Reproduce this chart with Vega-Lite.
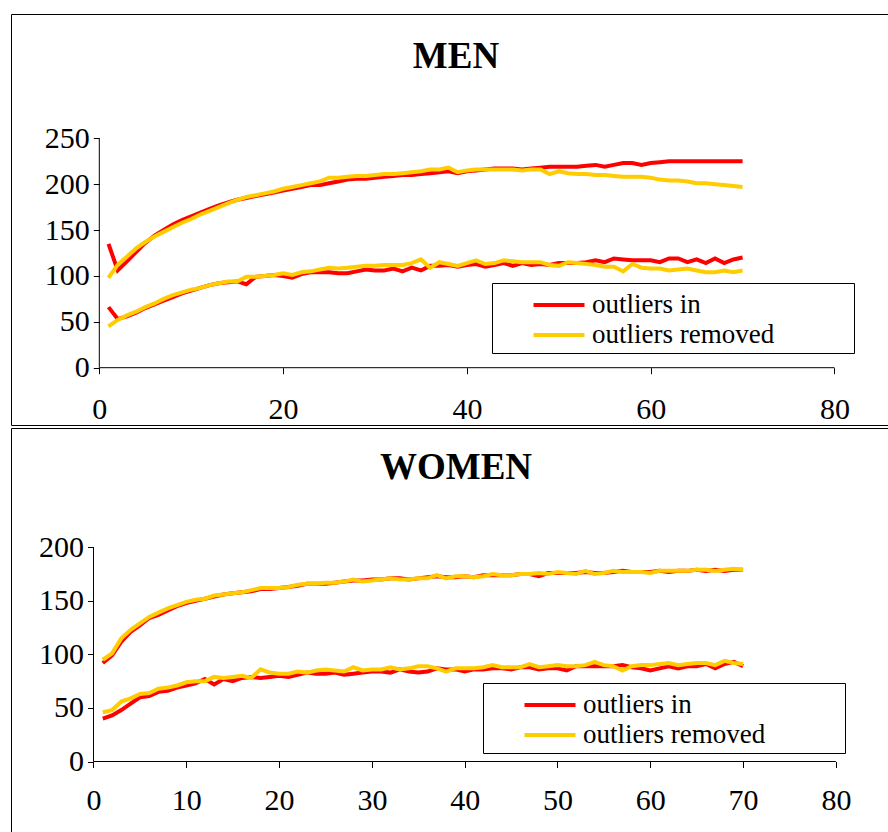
{
  "$schema": "https://vega.github.io/schema/vega-lite/v6.json",
  "padding": {"left": 10, "top": 13, "right": 0, "bottom": 0},
  "spacing": 1,
  "datasets": {
    "men": [
      {"x":1,"g":"u","outliers in":135,"outliers removed":98},{"x":2,"g":"u","outliers in":106,"outliers removed":112},{"x":3,"g":"u","outliers in":116,"outliers removed":121},{"x":4,"g":"u","outliers in":126,"outliers removed":130},{"x":5,"g":"u","outliers in":136,"outliers removed":137},{"x":6,"g":"u","outliers in":144,"outliers removed":143},{"x":7,"g":"u","outliers in":150,"outliers removed":148},{"x":8,"g":"u","outliers in":156,"outliers removed":153},{"x":9,"g":"u","outliers in":161,"outliers removed":158},{"x":10,"g":"u","outliers in":165,"outliers removed":162},
      {"x":11,"g":"u","outliers in":169,"outliers removed":167},{"x":12,"g":"u","outliers in":173,"outliers removed":171},{"x":13,"g":"u","outliers in":177,"outliers removed":175},{"x":14,"g":"u","outliers in":180,"outliers removed":179},{"x":15,"g":"u","outliers in":183,"outliers removed":183},{"x":16,"g":"u","outliers in":185,"outliers removed":186},{"x":17,"g":"u","outliers in":187,"outliers removed":188},{"x":18,"g":"u","outliers in":189,"outliers removed":190},{"x":19,"g":"u","outliers in":191,"outliers removed":192},{"x":20,"g":"u","outliers in":193,"outliers removed":195},
      {"x":21,"g":"u","outliers in":195,"outliers removed":197},{"x":22,"g":"u","outliers in":197,"outliers removed":199},{"x":23,"g":"u","outliers in":199,"outliers removed":201},{"x":24,"g":"u","outliers in":199,"outliers removed":203},{"x":25,"g":"u","outliers in":201,"outliers removed":207},{"x":26,"g":"u","outliers in":203,"outliers removed":207},{"x":27,"g":"u","outliers in":205,"outliers removed":208},{"x":28,"g":"u","outliers in":206,"outliers removed":209},{"x":29,"g":"u","outliers in":206,"outliers removed":209},{"x":30,"g":"u","outliers in":207,"outliers removed":210},
      {"x":31,"g":"u","outliers in":208,"outliers removed":211},{"x":32,"g":"u","outliers in":209,"outliers removed":211},{"x":33,"g":"u","outliers in":210,"outliers removed":212},{"x":34,"g":"u","outliers in":210,"outliers removed":213},{"x":35,"g":"u","outliers in":211,"outliers removed":214},{"x":36,"g":"u","outliers in":212,"outliers removed":216},{"x":37,"g":"u","outliers in":213,"outliers removed":216},{"x":38,"g":"u","outliers in":214,"outliers removed":218},{"x":39,"g":"u","outliers in":212,"outliers removed":213},{"x":40,"g":"u","outliers in":214,"outliers removed":215},
      {"x":41,"g":"u","outliers in":215,"outliers removed":216},{"x":42,"g":"u","outliers in":216,"outliers removed":216},{"x":43,"g":"u","outliers in":217,"outliers removed":216},{"x":44,"g":"u","outliers in":217,"outliers removed":216},{"x":45,"g":"u","outliers in":217,"outliers removed":216},{"x":46,"g":"u","outliers in":216,"outliers removed":215},{"x":47,"g":"u","outliers in":217,"outliers removed":216},{"x":48,"g":"u","outliers in":218,"outliers removed":216},{"x":49,"g":"u","outliers in":219,"outliers removed":211},{"x":50,"g":"u","outliers in":219,"outliers removed":214},
      {"x":51,"g":"u","outliers in":219,"outliers removed":212},{"x":52,"g":"u","outliers in":219,"outliers removed":211},{"x":53,"g":"u","outliers in":220,"outliers removed":211},{"x":54,"g":"u","outliers in":221,"outliers removed":210},{"x":55,"g":"u","outliers in":219,"outliers removed":210},{"x":56,"g":"u","outliers in":221,"outliers removed":209},{"x":57,"g":"u","outliers in":223,"outliers removed":208},{"x":58,"g":"u","outliers in":223,"outliers removed":208},{"x":59,"g":"u","outliers in":221,"outliers removed":208},{"x":60,"g":"u","outliers in":223,"outliers removed":207},
      {"x":61,"g":"u","outliers in":224,"outliers removed":205},{"x":62,"g":"u","outliers in":225,"outliers removed":204},{"x":63,"g":"u","outliers in":225,"outliers removed":204},{"x":64,"g":"u","outliers in":225,"outliers removed":203},{"x":65,"g":"u","outliers in":225,"outliers removed":201},{"x":66,"g":"u","outliers in":225,"outliers removed":201},{"x":67,"g":"u","outliers in":225,"outliers removed":200},{"x":68,"g":"u","outliers in":225,"outliers removed":199},{"x":69,"g":"u","outliers in":225,"outliers removed":198},{"x":70,"g":"u","outliers in":225,"outliers removed":197},
      {"x":1,"g":"l","outliers in":66,"outliers removed":45},{"x":2,"g":"l","outliers in":53,"outliers removed":52},{"x":3,"g":"l","outliers in":56,"outliers removed":57},{"x":4,"g":"l","outliers in":60,"outliers removed":61},{"x":5,"g":"l","outliers in":65,"outliers removed":66},{"x":6,"g":"l","outliers in":69,"outliers removed":70},{"x":7,"g":"l","outliers in":73,"outliers removed":75},{"x":8,"g":"l","outliers in":77,"outliers removed":79},{"x":9,"g":"l","outliers in":81,"outliers removed":82},{"x":10,"g":"l","outliers in":84,"outliers removed":85},
      {"x":11,"g":"l","outliers in":87,"outliers removed":87},{"x":12,"g":"l","outliers in":90,"outliers removed":90},{"x":13,"g":"l","outliers in":92,"outliers removed":92},{"x":14,"g":"l","outliers in":93,"outliers removed":94},{"x":15,"g":"l","outliers in":94,"outliers removed":94},{"x":16,"g":"l","outliers in":91,"outliers removed":99},{"x":17,"g":"l","outliers in":99,"outliers removed":99},{"x":18,"g":"l","outliers in":100,"outliers removed":100},{"x":19,"g":"l","outliers in":101,"outliers removed":101},{"x":20,"g":"l","outliers in":100,"outliers removed":103},
      {"x":21,"g":"l","outliers in":98,"outliers removed":101},{"x":22,"g":"l","outliers in":102,"outliers removed":104},{"x":23,"g":"l","outliers in":104,"outliers removed":105},{"x":24,"g":"l","outliers in":104,"outliers removed":107},{"x":25,"g":"l","outliers in":104,"outliers removed":109},{"x":26,"g":"l","outliers in":103,"outliers removed":108},{"x":27,"g":"l","outliers in":103,"outliers removed":109},{"x":28,"g":"l","outliers in":105,"outliers removed":110},{"x":29,"g":"l","outliers in":107,"outliers removed":111},{"x":30,"g":"l","outliers in":106,"outliers removed":111},
      {"x":31,"g":"l","outliers in":106,"outliers removed":112},{"x":32,"g":"l","outliers in":108,"outliers removed":112},{"x":33,"g":"l","outliers in":105,"outliers removed":112},{"x":34,"g":"l","outliers in":109,"outliers removed":114},{"x":35,"g":"l","outliers in":106,"outliers removed":118},{"x":36,"g":"l","outliers in":111,"outliers removed":109},{"x":37,"g":"l","outliers in":111,"outliers removed":115},{"x":38,"g":"l","outliers in":112,"outliers removed":113},{"x":39,"g":"l","outliers in":110,"outliers removed":111},{"x":40,"g":"l","outliers in":112,"outliers removed":114},
      {"x":41,"g":"l","outliers in":113,"outliers removed":117},{"x":42,"g":"l","outliers in":110,"outliers removed":113},{"x":43,"g":"l","outliers in":112,"outliers removed":114},{"x":44,"g":"l","outliers in":114,"outliers removed":117},{"x":45,"g":"l","outliers in":111,"outliers removed":116},{"x":46,"g":"l","outliers in":114,"outliers removed":115},{"x":47,"g":"l","outliers in":112,"outliers removed":115},{"x":48,"g":"l","outliers in":113,"outliers removed":115},{"x":49,"g":"l","outliers in":112,"outliers removed":112},{"x":50,"g":"l","outliers in":114,"outliers removed":111},
      {"x":51,"g":"l","outliers in":114,"outliers removed":115},{"x":52,"g":"l","outliers in":114,"outliers removed":114},{"x":53,"g":"l","outliers in":115,"outliers removed":113},{"x":54,"g":"l","outliers in":117,"outliers removed":112},{"x":55,"g":"l","outliers in":115,"outliers removed":110},{"x":56,"g":"l","outliers in":119,"outliers removed":110},{"x":57,"g":"l","outliers in":118,"outliers removed":105},{"x":58,"g":"l","outliers in":117,"outliers removed":113},{"x":59,"g":"l","outliers in":117,"outliers removed":109},{"x":60,"g":"l","outliers in":117,"outliers removed":108},
      {"x":61,"g":"l","outliers in":115,"outliers removed":108},{"x":62,"g":"l","outliers in":119,"outliers removed":106},{"x":63,"g":"l","outliers in":119,"outliers removed":107},{"x":64,"g":"l","outliers in":115,"outliers removed":108},{"x":65,"g":"l","outliers in":118,"outliers removed":106},{"x":66,"g":"l","outliers in":114,"outliers removed":104},{"x":67,"g":"l","outliers in":119,"outliers removed":104},{"x":68,"g":"l","outliers in":114,"outliers removed":106},{"x":69,"g":"l","outliers in":118,"outliers removed":104},{"x":70,"g":"l","outliers in":120,"outliers removed":106}
    ],
    "women": [
      {"x":1,"g":"u","outliers in":92,"outliers removed":95},{"x":2,"g":"u","outliers in":99,"outliers removed":101},{"x":3,"g":"u","outliers in":112,"outliers removed":115},{"x":4,"g":"u","outliers in":121,"outliers removed":123},{"x":5,"g":"u","outliers in":127,"outliers removed":129},{"x":6,"g":"u","outliers in":134,"outliers removed":135},{"x":7,"g":"u","outliers in":137,"outliers removed":139},{"x":8,"g":"u","outliers in":141,"outliers removed":143},{"x":9,"g":"u","outliers in":145,"outliers removed":146},{"x":10,"g":"u","outliers in":148,"outliers removed":149},
      {"x":11,"g":"u","outliers in":150,"outliers removed":151},{"x":12,"g":"u","outliers in":152,"outliers removed":152},{"x":13,"g":"u","outliers in":154,"outliers removed":155},{"x":14,"g":"u","outliers in":156,"outliers removed":156},{"x":15,"g":"u","outliers in":157,"outliers removed":157},{"x":16,"g":"u","outliers in":158,"outliers removed":158},{"x":17,"g":"u","outliers in":159,"outliers removed":160},{"x":18,"g":"u","outliers in":161,"outliers removed":162},{"x":19,"g":"u","outliers in":161,"outliers removed":162},{"x":20,"g":"u","outliers in":162,"outliers removed":162},
      {"x":21,"g":"u","outliers in":163,"outliers removed":163},{"x":22,"g":"u","outliers in":164,"outliers removed":165},{"x":23,"g":"u","outliers in":166,"outliers removed":166},{"x":24,"g":"u","outliers in":166,"outliers removed":166},{"x":25,"g":"u","outliers in":166,"outliers removed":167},{"x":26,"g":"u","outliers in":167,"outliers removed":167},{"x":27,"g":"u","outliers in":168,"outliers removed":168},{"x":28,"g":"u","outliers in":169,"outliers removed":170},{"x":29,"g":"u","outliers in":169,"outliers removed":168},{"x":30,"g":"u","outliers in":170,"outliers removed":169},
      {"x":31,"g":"u","outliers in":170,"outliers removed":170},{"x":32,"g":"u","outliers in":171,"outliers removed":171},{"x":33,"g":"u","outliers in":171,"outliers removed":170},{"x":34,"g":"u","outliers in":170,"outliers removed":170},{"x":35,"g":"u","outliers in":171,"outliers removed":171},{"x":36,"g":"u","outliers in":172,"outliers removed":171},{"x":37,"g":"u","outliers in":173,"outliers removed":174},{"x":38,"g":"u","outliers in":172,"outliers removed":171},{"x":39,"g":"u","outliers in":172,"outliers removed":173},{"x":40,"g":"u","outliers in":173,"outliers removed":173},
      {"x":41,"g":"u","outliers in":172,"outliers removed":172},{"x":42,"g":"u","outliers in":174,"outliers removed":173},{"x":43,"g":"u","outliers in":174,"outliers removed":175},{"x":44,"g":"u","outliers in":174,"outliers removed":174},{"x":45,"g":"u","outliers in":174,"outliers removed":174},{"x":46,"g":"u","outliers in":175,"outliers removed":175},{"x":47,"g":"u","outliers in":175,"outliers removed":175},{"x":48,"g":"u","outliers in":173,"outliers removed":176},{"x":49,"g":"u","outliers in":176,"outliers removed":175},{"x":50,"g":"u","outliers in":176,"outliers removed":177},
      {"x":51,"g":"u","outliers in":176,"outliers removed":176},{"x":52,"g":"u","outliers in":176,"outliers removed":175},{"x":53,"g":"u","outliers in":177,"outliers removed":178},{"x":54,"g":"u","outliers in":176,"outliers removed":175},{"x":55,"g":"u","outliers in":176,"outliers removed":176},{"x":56,"g":"u","outliers in":177,"outliers removed":178},{"x":57,"g":"u","outliers in":178,"outliers removed":177},{"x":58,"g":"u","outliers in":177,"outliers removed":177},{"x":59,"g":"u","outliers in":177,"outliers removed":177},{"x":60,"g":"u","outliers in":177,"outliers removed":176},
      {"x":61,"g":"u","outliers in":178,"outliers removed":178},{"x":62,"g":"u","outliers in":177,"outliers removed":178},{"x":63,"g":"u","outliers in":178,"outliers removed":178},{"x":64,"g":"u","outliers in":178,"outliers removed":178},{"x":65,"g":"u","outliers in":179,"outliers removed":179},{"x":66,"g":"u","outliers in":178,"outliers removed":179},{"x":67,"g":"u","outliers in":179,"outliers removed":178},{"x":68,"g":"u","outliers in":178,"outliers removed":179},{"x":69,"g":"u","outliers in":179,"outliers removed":180},{"x":70,"g":"u","outliers in":179,"outliers removed":179},
      {"x":1,"g":"l","outliers in":40,"outliers removed":46},{"x":2,"g":"l","outliers in":43,"outliers removed":48},{"x":3,"g":"l","outliers in":48,"outliers removed":56},{"x":4,"g":"l","outliers in":54,"outliers removed":59},{"x":5,"g":"l","outliers in":60,"outliers removed":63},{"x":6,"g":"l","outliers in":61,"outliers removed":64},{"x":7,"g":"l","outliers in":65,"outliers removed":68},{"x":8,"g":"l","outliers in":66,"outliers removed":69},{"x":9,"g":"l","outliers in":69,"outliers removed":71},{"x":10,"g":"l","outliers in":71,"outliers removed":74},
      {"x":11,"g":"l","outliers in":73,"outliers removed":75},{"x":12,"g":"l","outliers in":77,"outliers removed":75},{"x":13,"g":"l","outliers in":72,"outliers removed":79},{"x":14,"g":"l","outliers in":77,"outliers removed":78},{"x":15,"g":"l","outliers in":75,"outliers removed":79},{"x":16,"g":"l","outliers in":78,"outliers removed":80},{"x":17,"g":"l","outliers in":79,"outliers removed":78},{"x":18,"g":"l","outliers in":78,"outliers removed":86},{"x":19,"g":"l","outliers in":79,"outliers removed":83},{"x":20,"g":"l","outliers in":80,"outliers removed":82},
      {"x":21,"g":"l","outliers in":79,"outliers removed":82},{"x":22,"g":"l","outliers in":81,"outliers removed":84},{"x":23,"g":"l","outliers in":83,"outliers removed":83},{"x":24,"g":"l","outliers in":82,"outliers removed":85},{"x":25,"g":"l","outliers in":82,"outliers removed":86},{"x":26,"g":"l","outliers in":83,"outliers removed":85},{"x":27,"g":"l","outliers in":81,"outliers removed":84},{"x":28,"g":"l","outliers in":82,"outliers removed":88},{"x":29,"g":"l","outliers in":83,"outliers removed":85},{"x":30,"g":"l","outliers in":84,"outliers removed":86},
      {"x":31,"g":"l","outliers in":84,"outliers removed":86},{"x":32,"g":"l","outliers in":83,"outliers removed":88},{"x":33,"g":"l","outliers in":86,"outliers removed":86},{"x":34,"g":"l","outliers in":84,"outliers removed":87},{"x":35,"g":"l","outliers in":83,"outliers removed":89},{"x":36,"g":"l","outliers in":84,"outliers removed":89},{"x":37,"g":"l","outliers in":87,"outliers removed":87},{"x":38,"g":"l","outliers in":86,"outliers removed":84},{"x":39,"g":"l","outliers in":86,"outliers removed":87},{"x":40,"g":"l","outliers in":84,"outliers removed":87},
      {"x":41,"g":"l","outliers in":86,"outliers removed":87},{"x":42,"g":"l","outliers in":86,"outliers removed":88},{"x":43,"g":"l","outliers in":87,"outliers removed":90},{"x":44,"g":"l","outliers in":87,"outliers removed":88},{"x":45,"g":"l","outliers in":86,"outliers removed":88},{"x":46,"g":"l","outliers in":88,"outliers removed":88},{"x":47,"g":"l","outliers in":88,"outliers removed":91},{"x":48,"g":"l","outliers in":86,"outliers removed":88},{"x":49,"g":"l","outliers in":87,"outliers removed":89},{"x":50,"g":"l","outliers in":87,"outliers removed":90},
      {"x":51,"g":"l","outliers in":85,"outliers removed":89},{"x":52,"g":"l","outliers in":89,"outliers removed":89},{"x":53,"g":"l","outliers in":89,"outliers removed":90},{"x":54,"g":"l","outliers in":89,"outliers removed":93},{"x":55,"g":"l","outliers in":89,"outliers removed":90},{"x":56,"g":"l","outliers in":89,"outliers removed":89},{"x":57,"g":"l","outliers in":90,"outliers removed":85},{"x":58,"g":"l","outliers in":88,"outliers removed":89},{"x":59,"g":"l","outliers in":87,"outliers removed":90},{"x":60,"g":"l","outliers in":85,"outliers removed":90},
      {"x":61,"g":"l","outliers in":87,"outliers removed":91},{"x":62,"g":"l","outliers in":89,"outliers removed":92},{"x":63,"g":"l","outliers in":87,"outliers removed":90},{"x":64,"g":"l","outliers in":89,"outliers removed":91},{"x":65,"g":"l","outliers in":89,"outliers removed":92},{"x":66,"g":"l","outliers in":91,"outliers removed":92},{"x":67,"g":"l","outliers in":87,"outliers removed":90},{"x":68,"g":"l","outliers in":91,"outliers removed":94},{"x":69,"g":"l","outliers in":93,"outliers removed":92},{"x":70,"g":"l","outliers in":89,"outliers removed":91}
    ]
  },
  "vconcat": [
    {
      "width": 880,
      "height": 411,
      "title": {"text": "MEN", "offset": -80, "baseline": "middle", "dx": 5},
      "data": {"name": "men"},
      "layer": [
        {
          "transform": [{"fold": ["outliers in", "outliers removed"], "as": ["type", "value"]}],
          "mark": {"type": "line", "strokeWidth": 4},
          "encoding": {
            "x": {"field": "x", "type": "quantitative",
                  "scale": {"domain": [-9.61, 86.15], "nice": false, "zero": false},
                  "axis": {"title": null, "values": [0, 20, 40, 60, 80], "offset": -57.3, "labelPadding": 21}},
            "y": {"field": "value", "type": "quantitative",
                  "scale": {"domain": [-62.45, 385.46], "nice": false, "zero": false},
                  "axis": {"title": null, "values": [0, 50, 100, 150, 200, 250], "offset": -88.3, "labelPadding": 4}},
            "color": {"field": "type", "type": "nominal",
                      "scale": {"domain": ["outliers in", "outliers removed"], "range": ["#FF0000", "#FFCC00"]},
                      "legend": {"title": null, "orient": "none", "legendX": 481, "legendY": 269,
                                 "labelExpr": "datum.label + '\u00a0\u00a0\u00a0\u00a0\u00a0\u00a0\u00a0\u00a0\u00a0\u00a0\u00a0\u200b'"}},
            "detail": {"field": "g"}
          }
        },
        {
          "data": {"values": [{}]},
          "mark": {"type": "rule", "color": "black", "strokeWidth": 1},
          "encoding": {"x": {"datum": 0}, "x2": {"datum": 80}, "y": {"datum": 0}}
        },
        {
          "data": {"values": [{}]},
          "mark": {"type": "rule", "color": "black", "strokeWidth": 1},
          "encoding": {"x": {"datum": 0}, "y": {"datum": 0}, "y2": {"datum": 250}}
        }
      ]
    },
    {
      "width": 880,
      "height": 410,
      "title": {"text": "WOMEN", "offset": -77, "baseline": "middle", "dx": 5},
      "data": {"name": "women"},
      "layer": [
        {
          "transform": [{"fold": ["outliers in", "outliers removed"], "as": ["type", "value"]}],
          "mark": {"type": "line", "strokeWidth": 4},
          "encoding": {
            "x": {"field": "x", "type": "quantitative",
                  "scale": {"domain": [-8.89, 85.94], "nice": false, "zero": false},
                  "axis": {"title": null, "values": [0, 10, 20, 30, 40, 50, 60, 70, 80], "offset": -76.5, "labelPadding": 18}},
            "y": {"field": "value", "type": "quantitative",
                  "scale": {"domain": [-71.43, 311.4], "nice": false, "zero": false},
                  "axis": {"title": null, "values": [0, 50, 100, 150, 200], "offset": -82.5, "labelPadding": 4}},
            "color": {"field": "type", "type": "nominal",
                      "scale": {"domain": ["outliers in", "outliers removed"], "range": ["#FF0000", "#FFCC00"]},
                      "legend": {"title": null, "orient": "none", "legendX": 472, "legendY": 255,
                                 "labelExpr": "datum.label + '\u00a0\u00a0\u00a0\u00a0\u00a0\u00a0\u00a0\u00a0\u00a0\u00a0\u00a0\u200b'"}},
            "detail": {"field": "g"}
          }
        },
        {
          "data": {"values": [{}]},
          "mark": {"type": "rule", "color": "black", "strokeWidth": 1},
          "encoding": {"x": {"datum": 0}, "x2": {"datum": 80}, "y": {"datum": 0}}
        },
        {
          "data": {"values": [{}]},
          "mark": {"type": "rule", "color": "black", "strokeWidth": 1},
          "encoding": {"x": {"datum": 0}, "y": {"datum": 0}, "y2": {"datum": 200}}
        }
      ]
    }
  ],
  "resolve": {"scale": {"color": "independent"}},
  "config": {
    "font": "Liberation Serif",
    "background": "white",
    "view": {"stroke": "black", "strokeWidth": 1},
    "axis": {
      "grid": false, "domain": false, "ticks": true, "tickColor": "black", "tickSize": 6,
      "labelFont": "Liberation Serif", "labelFontSize": 30, "labelColor": "black", "labelFlush": false
    },
    "legend": {
      "labelFont": "Liberation Serif", "labelFontSize": 27, "labelColor": "black", "labelLimit": 600,
      "symbolType": "M-1.7,0H1.7", "symbolStrokeWidth": 4, "symbolSize": 900,
      "symbolOffset": 45, "labelOffset": 16, "rowPadding": -1,
      "strokeColor": "black", "fillColor": "white", "padding": 5
    },
    "title": {"font": "Liberation Serif", "fontSize": 37, "fontWeight": "bold", "color": "black", "anchor": "middle", "frame": "group"}
  }
}
